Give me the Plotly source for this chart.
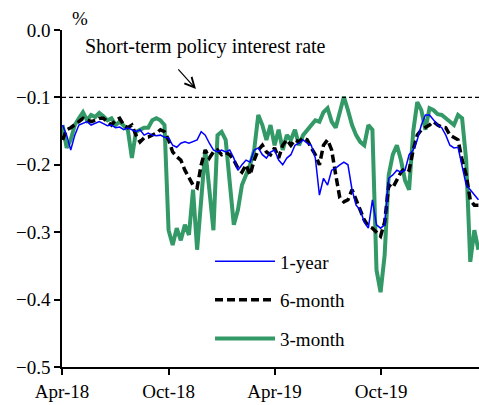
import pandas as pd
import plotly.graph_objects as go

start_date = "2018-04-02"  # weekly observations

one_year = [-0.141, -0.156, -0.178, -0.156, -0.141, -0.138, -0.136, -0.141, -0.138, -0.136,
            -0.139, -0.142, -0.141, -0.145, -0.144, -0.148, -0.145, -0.148, -0.151, -0.148,
            -0.156, -0.153, -0.156, -0.157, -0.156, -0.159, -0.160, -0.171, -0.174, -0.168,
            -0.166, -0.168, -0.166, -0.163, -0.151, -0.156, -0.168, -0.178, -0.181, -0.178,
            -0.181, -0.178, -0.190, -0.208, -0.200, -0.193, -0.196, -0.178, -0.175, -0.185,
            -0.190, -0.181, -0.178, -0.193, -0.200, -0.190, -0.185, -0.171, -0.168, -0.163,
            -0.168, -0.171, -0.190, -0.245, -0.220, -0.230, -0.208, -0.205, -0.200, -0.196,
            -0.200, -0.237, -0.260, -0.267, -0.285, -0.294, -0.252, -0.289, -0.294, -0.289,
            -0.220, -0.215, -0.208, -0.211, -0.208, -0.185, -0.178, -0.163, -0.141, -0.126,
            -0.126, -0.134, -0.141, -0.145, -0.156, -0.171, -0.175, -0.174, -0.200, -0.230,
            -0.237, -0.245, -0.252]

six_month = [-0.163, -0.148, -0.145, -0.141, -0.136, -0.131, -0.134, -0.136, -0.134, -0.131,
             -0.131, -0.136, -0.141, -0.134, -0.131, -0.141, -0.145, -0.141, -0.156, -0.166,
             -0.160, -0.159, -0.156, -0.153, -0.148, -0.151, -0.163, -0.181, -0.188, -0.193,
             -0.208, -0.220, -0.230, -0.234, -0.200, -0.178, -0.190, -0.181, -0.178, -0.185,
             -0.182, -0.185, -0.193, -0.205, -0.211, -0.200, -0.215, -0.193, -0.178, -0.171,
             -0.181, -0.185, -0.175, -0.190, -0.171, -0.163, -0.171, -0.163, -0.166, -0.160,
             -0.163, -0.175, -0.185, -0.200, -0.171, -0.163, -0.178, -0.215, -0.249, -0.255,
             -0.252, -0.237, -0.252, -0.270, -0.282, -0.291, -0.294, -0.300, -0.306, -0.285,
             -0.230, -0.234, -0.223, -0.211, -0.205, -0.208, -0.178, -0.156, -0.148, -0.145,
             -0.141, -0.136, -0.141, -0.144, -0.145, -0.156, -0.160, -0.163, -0.193, -0.215,
             -0.252, -0.260, -0.260]

three_month = [-0.141, -0.175, -0.163, -0.141, -0.131, -0.122, -0.134, -0.126, -0.129, -0.123,
               -0.128, -0.134, -0.131, -0.141, -0.136, -0.142, -0.148, -0.190, -0.151, -0.148,
               -0.145, -0.145, -0.134, -0.131, -0.134, -0.141, -0.297, -0.319, -0.294, -0.312,
               -0.289, -0.304, -0.237, -0.326, -0.252, -0.178, -0.237, -0.297, -0.156, -0.151,
               -0.163, -0.223, -0.289, -0.267, -0.230, -0.215, -0.200, -0.178, -0.126, -0.141,
               -0.163, -0.141, -0.171, -0.148, -0.178, -0.156, -0.163, -0.148, -0.171, -0.156,
               -0.148, -0.141, -0.134, -0.136, -0.122, -0.116, -0.136, -0.145, -0.119, -0.099,
               -0.119, -0.141, -0.156, -0.166, -0.171, -0.141, -0.148, -0.356, -0.389, -0.334,
               -0.215, -0.185, -0.171, -0.193, -0.223, -0.237, -0.151, -0.107, -0.119, -0.148,
               -0.116, -0.119, -0.125, -0.126, -0.131, -0.136, -0.141, -0.126, -0.131, -0.193,
               -0.344, -0.297, -0.326]

policy_rate = -0.1
tick_dates = ["2018-04-01", "2018-10-01", "2019-04-01", "2019-10-01"]
tick_labels = ["Apr-18", "Oct-18", "Apr-19", "Oct-19"]

dates = pd.date_range(start=start_date, periods=len(one_year), freq="7D")

FONT = "Liberation Serif, Times New Roman, serif"
FS = 19

fig = go.Figure()
fig.add_trace(go.Scatter(x=dates, y=three_month, mode="lines", name="3-month",
                         legendgroup="c", legendrank=3, line=dict(color="#339966", width=4)))
fig.add_trace(go.Scatter(x=dates, y=six_month, mode="lines", name="6-month",
                         legendgroup="b", legendrank=2,
                         line=dict(color="black", width=3.5, dash="8px,4px")))
fig.add_trace(go.Scatter(x=dates, y=one_year, mode="lines", name="1-year",
                         legendgroup="a", legendrank=1, line=dict(color="#0000FF", width=1.5)))

fig.add_shape(type="line", xref="paper", x0=0, x1=1, yref="y", y0=policy_rate, y1=policy_rate,
              line=dict(color="black", width=1.2, dash="4px,3px"))

# arrow pointing at the policy-rate line
fig.add_annotation(x="2018-11-17", y=-0.0875, ax=-19, ay=-21, xref="x", yref="y",
                   showarrow=True, arrowhead=5, arrowsize=1.6, arrowwidth=1.2,
                   arrowcolor="black", standoff=0, text="")
fig.add_annotation(xref="paper", yref="paper", x=0.05, y=0.95, xanchor="left", yanchor="middle",
                   text="Short-term policy interest rate", showarrow=False,
                   font=dict(family=FONT, size=20, color="black"))
fig.add_annotation(xref="paper", yref="paper", x=0.02, y=1.033, xanchor="left",
                   yanchor="middle", text="%", showarrow=False,
                   font=dict(family=FONT, size=FS, color="black"))

fig.update_layout(
    width=479, height=405,
    margin=dict(l=62, r=0, t=30, b=38),
    paper_bgcolor="white", plot_bgcolor="white",
    font=dict(family=FONT, size=FS, color="black"),
    showlegend=True,
    legend=dict(x=0.355, y=0.37, xanchor="left", yanchor="top",
                traceorder="grouped", tracegroupgap=11, itemwidth=60,
                bgcolor="rgba(0,0,0,0)", font=dict(family=FONT, size=FS)),
    xaxis=dict(range=["2018-04-01", "2020-03-17"], tickvals=tick_dates, ticktext=tick_labels,
               showline=True, linecolor="black", linewidth=1.5, ticks="outside",
               ticklen=6, tickcolor="black", tickwidth=1.5, showgrid=False, zeroline=False),
    yaxis=dict(range=[-0.5, 0], dtick=0.1, tickformat=".1f", showline=True, linecolor="black",
               linewidth=1.5, ticks="outside", ticklen=6, tickcolor="black", tickwidth=1.5,
               showgrid=False, zeroline=False),
)

fig.write_html("out.html", config={"displayModeBar": False},
               post_script="document.body.style.margin='0';")
